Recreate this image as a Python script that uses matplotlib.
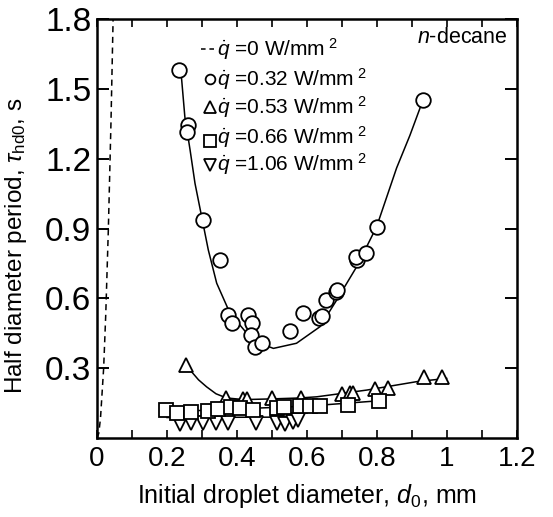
import matplotlib
matplotlib.use("Agg")
import matplotlib.pyplot as plt
from matplotlib.ticker import MultipleLocator, FixedLocator

plt.rcParams['font.family'] = ['Liberation Sans', 'DejaVu Sans']
plt.rcParams['mathtext.fontset'] = 'custom'
plt.rcParams['mathtext.rm'] = 'Liberation Sans'
plt.rcParams['mathtext.it'] = 'Liberation Sans:italic'
plt.rcParams['mathtext.bf'] = 'Liberation Sans:bold'

# ---- data ----
# q = 0 W/mm2 (dashed)
q0_d = [0.0, 0.005, 0.010, 0.019, 0.025, 0.0325, 0.040, 0.046]
q0_t = [0.0, 0.02, 0.085, 0.30, 0.53, 0.90, 1.36, 1.80]

# q = 0.32 W/mm2 (circles)
c_d = [0.234, 0.261, 0.256, 0.303, 0.351, 0.375, 0.385, 0.432, 0.442, 0.439,
       0.451, 0.471, 0.551, 0.589, 0.635, 0.642, 0.654, 0.683, 0.685, 0.742,
       0.740, 0.770, 0.799, 0.932]
c_t = [1.580, 1.345, 1.316, 0.936, 0.765, 0.528, 0.495, 0.528, 0.493, 0.442,
       0.392, 0.406, 0.461, 0.538, 0.514, 0.524, 0.593, 0.626, 0.636, 0.765,
       0.776, 0.796, 0.908, 1.452]
cfit_d = [0.240, 0.251, 0.266, 0.280, 0.299, 0.318, 0.342, 0.380, 0.428, 0.466,
          0.504, 0.570, 0.637, 0.685, 0.742, 0.799, 0.856, 0.894, 0.928]
cfit_t = [1.573, 1.380, 1.237, 1.094, 0.951, 0.808, 0.665, 0.536, 0.450, 0.407,
          0.385, 0.407, 0.478, 0.593, 0.736, 0.908, 1.160, 1.300, 1.438]

# q = 0.53 W/mm2 (triangles)
tr_d = [0.254, 0.370, 0.418, 0.430, 0.499, 0.582, 0.699, 0.723, 0.732, 0.794,
        0.832, 0.934, 0.985]
tr_t = [0.313, 0.170, 0.168, 0.168, 0.172, 0.170, 0.189, 0.195, 0.195, 0.209,
        0.213, 0.261, 0.261]
trfit_d = [0.254, 0.266, 0.290, 0.313, 0.340, 0.370, 0.420, 0.500, 0.580, 0.628,
           0.771, 0.913, 0.999]
trfit_t = [0.313, 0.292, 0.250, 0.220, 0.190, 0.172, 0.165, 0.168, 0.172, 0.177,
           0.206, 0.242, 0.256]

# q = 0.66 W/mm2 (squares)
sq_d = [0.197, 0.228, 0.270, 0.318, 0.347, 0.383, 0.409, 0.445, 0.513, 0.535,
        0.580, 0.609, 0.637, 0.718, 0.806]
sq_t = [0.120, 0.109, 0.113, 0.117, 0.123, 0.134, 0.130, 0.120, 0.127, 0.132,
        0.137, 0.137, 0.137, 0.142, 0.160]
sqfit_d = [0.197, 0.400, 0.600, 0.646, 0.806]
sqfit_t = [0.112, 0.125, 0.137, 0.142, 0.160]

# q = 1.06 W/mm2 (down triangles)
dn_d = [0.237, 0.270, 0.304, 0.340, 0.375, 0.455, 0.514, 0.537, 0.561, 0.575]
dn_t = [0.062, 0.064, 0.064, 0.066, 0.064, 0.066, 0.064, 0.062, 0.070, 0.076]
dnfit_d = [0.200, 0.580]
dnfit_t = [0.088, 0.090]

legend_labels = ['0', '0.32', '0.53', '0.66', '1.06']
legend_y = [1.671, 1.542, 1.420, 1.294, 1.175]

xticks = [0, 0.2, 0.4, 0.6, 0.8, 1.0, 1.2]
xticklabels = ['0', '0.2', '0.4', '0.6', '0.8', '1', '1.2']
yticks = [0.3, 0.6, 0.9, 1.2, 1.5, 1.8]
yticklabels = ['0.3', '0.6', '0.9', '1.2', '1.5', '1.8']

# ---- figure ----
fig = plt.figure(figsize=(5.53, 5.17), dpi=100)
ax = fig.add_axes([0.1754, 0.1528, 0.7595, 0.8104])

lw = 1.1
mew = 1.3
mk = dict(mfc='white', mec='black', mew=mew, ls='none')

ax.plot(q0_d, q0_t, color='black', lw=1.1, ls=(0, (4, 3)))
ax.plot(cfit_d, cfit_t, color='black', lw=lw)
ax.plot(trfit_d, trfit_t, color='black', lw=lw)
ax.plot(sqfit_d, sqfit_t, color='black', lw=lw)
ax.plot(dnfit_d, dnfit_t, color='black', lw=lw)

ax.plot(c_d, c_t, marker='o', ms=10.5, zorder=3, **mk)
ax.plot(dn_d, dn_t, marker='v', ms=10, zorder=3, **mk)
ax.plot(tr_d, tr_t, marker='^', ms=10.5, zorder=4, **mk)
ax.plot(sq_d, sq_t, marker='s', ms=10, zorder=5, **mk)

# manual legend
lx = 0.322
tx = 0.343
ax.plot([0.298, 0.336], [legend_y[0]] * 2, color='black', lw=1.1, ls=(0, (3, 2.5)))
ax.plot([lx], [legend_y[1]], marker='o', ms=7, **mk)
ax.plot([lx], [legend_y[2]], marker='^', ms=8, **mk)
ax.plot([lx], [legend_y[3] - 0.02], marker='s', ms=8, **mk)
ax.plot([lx], [legend_y[4]], marker='v', ms=8, **mk)
for lab, yy in zip(legend_labels, legend_y):
    ax.text(tx, yy, r'$\dot{q}$ =' + lab + r' W/mm$^{\ 2}$', fontsize=15,
            va='center', ha='left')

ax.text(1.172, 1.72, r'$n$-decane', fontsize=15.5, ha='right', va='center')

ax.set_xlim(0, 1.2)
ax.set_ylim(0, 1.8)
ax.xaxis.set_major_locator(FixedLocator(xticks))
ax.set_xticklabels(xticklabels)
ax.xaxis.set_minor_locator(MultipleLocator(0.1))
ax.yaxis.set_major_locator(FixedLocator(yticks))
ax.set_yticklabels(yticklabels)

ax.tick_params(axis='x', which='both', direction='in', top=True, bottom=True,
               length=6, width=1.2, labelsize=20, pad=6)
ax.tick_params(axis='y', which='both', direction='in', left=True, right=True,
               length=8.5, width=1.4, labelsize=24, pad=4)
for s in ax.spines.values():
    s.set_linewidth(1.8)

ax.set_xlabel(r'Initial droplet diameter, $d_0$, mm', fontsize=18)
ax.set_ylabel(r'Half diameter period, $\tau_{\rm hd0}$, s', fontsize=17.5)
ax.xaxis.set_label_coords(0.5, -0.105, transform=ax.transAxes)
ax.yaxis.set_label_coords(-0.162, 0.46, transform=ax.transAxes)

fig.savefig('out.png', dpi=100)
